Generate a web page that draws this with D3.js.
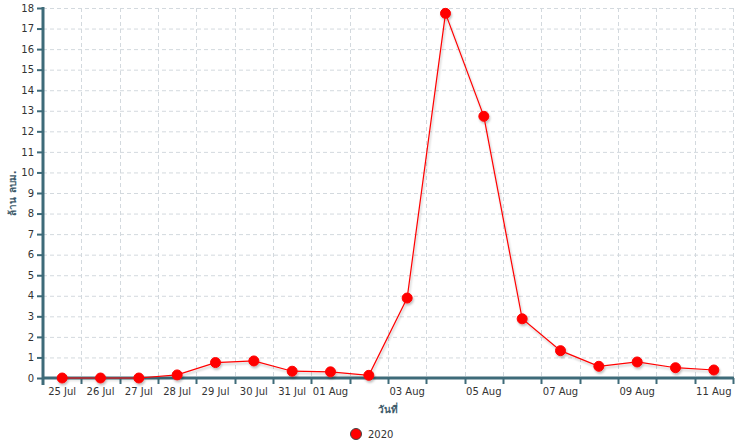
<!DOCTYPE html>
<html>
<head>
<meta charset="utf-8">
<script src="https://cdn.jsdelivr.net/npm/d3@7"></script>
<style>
  body { margin: 0; background: #fff; }
  text { font-family: "DejaVu Sans", sans-serif; }
</style>
</head>
<body>
<svg id="chart" width="743" height="447"></svg>
<script>
// days on the category axis
var days = ["25 Jul", "26 Jul", "27 Jul", "28 Jul", "29 Jul", "30 Jul", "31 Jul", "01 Aug", "02 Aug",
  "03 Aug", "04 Aug", "05 Aug", "06 Aug", "07 Aug", "08 Aug", "09 Aug", "10 Aug", "11 Aug"];
// labels the axis actually shows
var shownLabels = ["25 Jul", "26 Jul", "27 Jul", "28 Jul", "29 Jul", "30 Jul", "31 Jul", "01 Aug",
  "03 Aug", "05 Aug", "07 Aug", "09 Aug", "11 Aug"];
var values2020 = [0, 0, 0, 0.15, 0.75, 0.83, 0.33, 0.3, 0.13, 3.89, 17.74, 12.73, 2.88, 1.33, 0.57, 0.78, 0.5, 0.39];
var yTicks = d3.range(0, 19);
var seriesName = "2020";

var axisColor = "#3e6b79";
var margin = { left: 43, right: 10, top: 8, bottom: 69 };
var width = 743, height = 447;

var svg = d3.select("#chart");

var defs = svg.append("defs");
var f = defs.append("filter").attr("id", "shadow").attr("x", "-50%").attr("y", "-50%")
  .attr("width", "200%").attr("height", "200%");
f.append("feDropShadow").attr("dx", 1).attr("dy", 2).attr("stdDeviation", 1)
  .attr("flood-color", "#000").attr("flood-opacity", 0.25);

var x = d3.scaleBand()
  .domain(days)
  .range([margin.left, width - margin.right])
  .padding(0);

var y = d3.scaleLinear()
  .domain([0, 18])
  .range([height - margin.bottom, margin.top]);

var bottom = y(0);

/* grid */
svg.append("g").selectAll("line.h")
  .data(yTicks.slice(1))
  .enter().append("line")
  .attr("x1", margin.left).attr("x2", width - margin.right)
  .attr("y1", function (d) { return y(d) + 0.5; })
  .attr("y2", function (d) { return y(d) + 0.5; })
  .attr("stroke", "#d3d9de").attr("stroke-dasharray", "4,3");

var bounds = days.map(function (d) { return x(d); }).slice(1);
bounds.push(width - margin.right);
svg.append("g").selectAll("line.v")
  .data(bounds)
  .enter().append("line")
  .attr("x1", function (d) { return Math.round(d) + 0.5; })
  .attr("x2", function (d) { return Math.round(d) + 0.5; })
  .attr("y1", margin.top).attr("y2", bottom)
  .attr("stroke", "#d3d9de").attr("stroke-dasharray", "4,3");

/* axes */
var yAxis = d3.axisLeft(y).tickValues(yTicks).tickSize(6).tickPadding(3);
var gy = svg.append("g").attr("transform", "translate(" + margin.left + ",0)").call(yAxis);
gy.select(".domain").remove();
gy.selectAll(".tick line").attr("stroke", axisColor).attr("stroke-width", 2);
gy.selectAll(".tick text").attr("fill", "#333").style("font-size", "10px");

svg.append("line")
  .attr("x1", margin.left).attr("x2", margin.left)
  .attr("y1", margin.top - 1).attr("y2", bottom + 7)
  .attr("stroke", axisColor).attr("stroke-width", 3);

svg.append("line")
  .attr("x1", margin.left).attr("x2", width - margin.right + 1)
  .attr("y1", bottom).attr("y2", bottom)
  .attr("stroke", axisColor).attr("stroke-width", 3);

svg.append("g").selectAll("line.xt")
  .data(bounds)
  .enter().append("line")
  .attr("x1", function (d) { return Math.round(d) + 0.5; })
  .attr("x2", function (d) { return Math.round(d) + 0.5; })
  .attr("y1", bottom).attr("y2", bottom + 6)
  .attr("stroke", axisColor).attr("stroke-width", 2);

svg.append("g").selectAll("text.xl")
  .data(shownLabels)
  .enter().append("text")
  .attr("x", function (d) { return x(d) + x.bandwidth() / 2; })
  .attr("y", bottom + 17)
  .attr("text-anchor", "middle")
  .attr("fill", "#333")
  .style("font-size", "10px")
  .text(function (d) { return d; });

/* titles */
svg.append("text")
  .attr("x", (margin.left + width - margin.right) / 2)
  .attr("y", bottom + 35)
  .attr("text-anchor", "middle")
  .attr("fill", "#3e5b6b")
  .style("font-size", "10px").style("font-weight", "bold")
  .text("วันที่");

svg.append("text")
  .attr("transform", "translate(16," + (margin.top + bottom) / 2 + ") rotate(-90)")
  .attr("text-anchor", "middle")
  .attr("fill", "#3e5b6b")
  .style("font-size", "10px").style("font-weight", "bold")
  .text("ล้าน ลบม.");

/* series */
var line = d3.line()
  .x(function (d, i) { return x(days[i]) + x.bandwidth() / 2; })
  .y(function (d) { return y(d); });

var gs = svg.append("g").attr("filter", "url(#shadow)");
gs.append("path")
  .datum(values2020)
  .attr("d", line)
  .attr("fill", "none")
  .attr("stroke", "#ff0000")
  .attr("stroke-width", 1.2);

gs.selectAll("circle")
  .data(values2020)
  .enter().append("circle")
  .attr("cx", function (d, i) { return x(days[i]) + x.bandwidth() / 2; })
  .attr("cy", function (d) { return y(d); })
  .attr("r", 5)
  .attr("fill", "#ff0000")
  .attr("stroke", "#ff0000");

/* legend */
var lg = svg.append("g").attr("transform", "translate(356,434)");
lg.append("circle").attr("r", 5.5).attr("fill", "#ff0000").attr("stroke", "#444").attr("stroke-width", 1);
lg.append("text").attr("x", 12).attr("y", 4).attr("fill", "#333").style("font-size", "10px").text(seriesName);
</script>
</body>
</html>
